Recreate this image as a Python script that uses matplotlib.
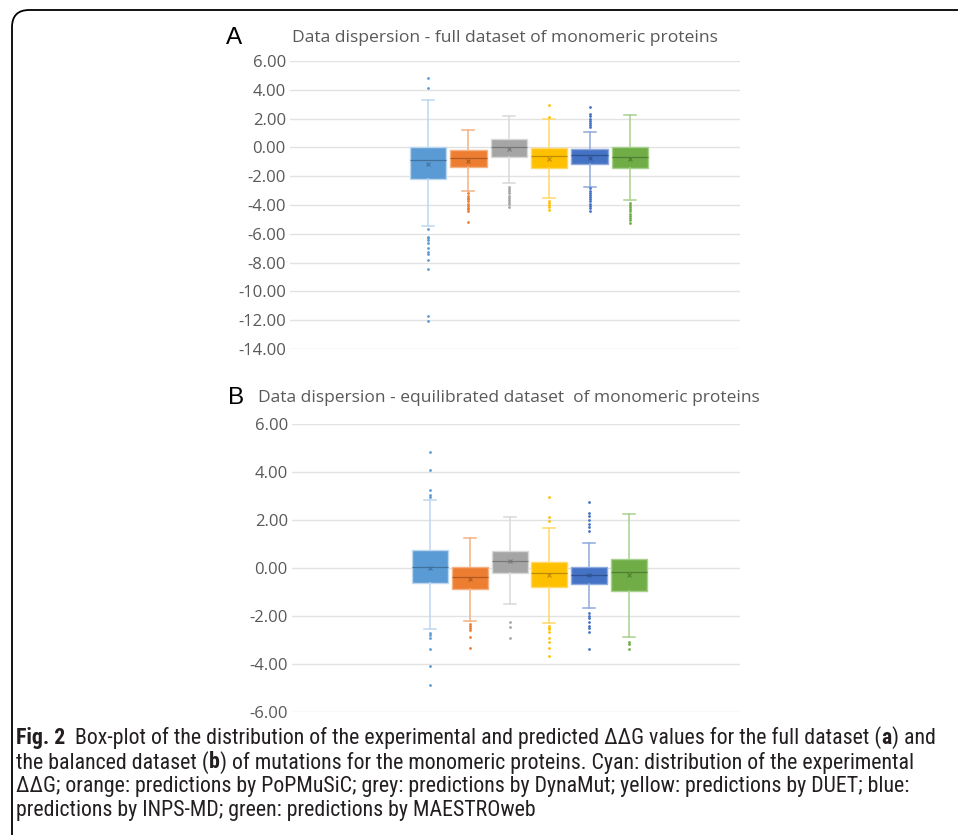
import matplotlib
matplotlib.use("Agg")
import matplotlib.pyplot as plt
from matplotlib import font_manager as fm
from matplotlib.patches import FancyBboxPatch
from matplotlib.ticker import FixedLocator, FuncFormatter

# ---------------- data ----------------
series_names = ["Experimental", "PoPMuSiC", "DynaMut", "DUET", "INPS-MD", "MAESTROweb"]
box_colors = ["#5B9BD5", "#ED7D31", "#A5A5A5", "#FFC000", "#4472C4", "#70AD47"]
dark_colors = ["#41719C", "#AE5A21", "#787878", "#BC8C00", "#2F528F", "#507E32"]
light_colors = ["#BDD7EE", "#F4B183", "#D9D9D9", "#FFD966", "#8FAADC", "#A9D18E"]

# Panel A: full dataset
a_q1 = [-2.19, -1.36, -0.67, -1.45, -1.18, -1.45]
a_med = [-0.88, -0.76, 0.00, -0.62, -0.53, -0.67]
a_q3 = [0.00, -0.20, 0.60, -0.07, -0.13, 0.05]
a_mean = [-1.13, -0.92, -0.13, -0.83, -0.71, -0.83]
a_whislo = [-5.46, -3.05, -2.49, -3.54, -2.73, -3.65]
a_whishi = [3.29, 1.23, 2.18, 1.97, 1.05, 2.25]
a_fliers = [
    [4.84, 4.10, -5.69, -6.20, -6.30, -6.43, -6.62, -7.00, -7.26, -7.40, -7.82, -8.42, -11.71, -12.03],
    [-3.20, -3.35, -3.50, -3.60, -3.75, -3.90, -4.05, -4.20, -4.30, -4.45, -5.20],
    [-2.75, -2.90, -3.05, -3.20, -3.35, -3.50, -3.65, -3.80, -3.95, -4.16],
    [2.97, 2.13, -3.70, -3.85, -4.00, -4.15, -4.35],
    [2.78, 2.30, 2.15, 2.00, 1.85, 1.70, 1.55, 1.44,
     -2.85, -3.00, -3.15, -3.30, -3.45, -3.60, -3.75, -3.90, -4.05, -4.20, -4.40],
    [-3.85, -4.00, -4.15, -4.30, -4.45, -4.60, -4.75, -4.90, -5.05, -5.27],
]

# Panel B: equilibrated (balanced) dataset
b_q1 = [-0.64, -0.88, -0.22, -0.78, -0.68, -0.94]
b_med = [0.05, -0.39, 0.28, -0.22, -0.29, -0.18]
b_q3 = [0.75, 0.05, 0.72, 0.24, 0.05, 0.36]
b_mean = [0.00, -0.47, 0.28, -0.29, -0.29, -0.29]
b_whislo = [-2.56, -2.22, -1.50, -2.31, -1.68, -2.86]
b_whishi = [2.83, 1.25, 2.11, 1.67, 1.05, 2.26]
b_fliers = [
    [4.85, 4.08, 3.25, 3.04, 2.95, -2.72, -2.80, -2.93, -3.38, -4.07, -4.89],
    [-2.33, -2.42, -2.50, -2.60, -2.88, -3.35],
    [-2.24, -2.44, -2.92],
    [2.96, 2.11, 1.96, -2.40, -2.48, -2.56, -2.65, -2.93, -3.07, -3.35, -3.65],
    [2.76, 2.30, 2.15, 2.00, 1.85, 1.70, 1.55,
     -1.86, -1.98, -2.10, -2.25, -2.40, -2.52, -2.65, -3.38],
    [-3.10, -3.18, -3.39],
]

a_ticks = [6, 4, 2, 0, -2, -4, -6, -8, -10, -12, -14]
b_ticks = [6, 4, 2, 0, -2, -4, -6]

title_a = "Data dispersion - full dataset of monomeric proteins"
title_b = "Data dispersion - equilibrated dataset  of monomeric proteins"

# caption: each line is a list of (text, bold, gap_before_in_spaces)
caption_lines = [
    [("Fig. 2", True, 0), ("Box-plot of the distribution of the experimental and predicted ΔΔG values for the full dataset (", False, 2),
     ("a", True, 0), (") and", False, 0)],
    [("the balanced dataset (", False, 0), ("b", True, 0),
     (") of mutations for the monomeric proteins. Cyan: distribution of the experimental", False, 0)],
    [("ΔΔG; orange: predictions by PoPMuSiC; grey: predictions by DynaMut; yellow: predictions by DUET; blue:", False, 0)],
    [("predictions by INPS-MD; green: predictions by MAESTROweb", False, 0)],
]

# ---------------- fonts ----------------
plt.rcParams["axes.unicode_minus"] = False
chart_font = ["Open Sans", "DejaVu Sans"]


def pick_caption_font():
    prefs = ["Liberation Sans Narrow", "Roboto Condensed", "Open Sans Condensed",
             "Noto Sans Condensed", "DejaVu Sans Condensed"]
    names = {f.name for f in fm.fontManager.ttflist}
    for p in prefs:
        if p in names:
            return [p, "DejaVu Sans"], "normal"
    for f in fm.fontManager.ttflist:
        if f.name == "DejaVu Sans" and "condensed" in str(f.stretch):
            return ["DejaVu Sans"], "condensed"
    return ["Liberation Sans", "DejaVu Sans"], "normal"


cap_family, cap_stretch = pick_caption_font()

W, H = 958, 835
fig = plt.figure(figsize=(W / 100, H / 100), dpi=100)


def px_axes(left, top, right, bottom):
    return fig.add_axes([left / W, 1 - bottom / H, (right - left) / W, (bottom - top) / H])


def draw_panel(ax, q1, med, q3, mean, wlo, whi, fliers, ticks, xlim):
    stats = []
    for i in range(len(series_names)):
        stats.append(dict(label=series_names[i], q1=q1[i], med=med[i], q3=q3[i],
                          mean=mean[i], whislo=wlo[i], whishi=whi[i], fliers=fliers[i]))
    positions = list(range(1, len(stats) + 1))
    for i, st in enumerate(stats):
        ax.bxp([st], positions=[positions[i]], widths=0.9, capwidths=0.3,
               showmeans=True, patch_artist=True, manage_ticks=False,
               boxprops=dict(facecolor=box_colors[i], edgecolor=light_colors[i], linewidth=1.0),
               medianprops=dict(color=dark_colors[i], linewidth=0.9),
               whiskerprops=dict(color=light_colors[i], linewidth=1.1),
               capprops=dict(color=light_colors[i], linewidth=1.1),
               meanprops=dict(marker="x", markeredgecolor=dark_colors[i], markersize=3.5,
                              markeredgewidth=0.8),
               flierprops=dict(marker="o", markerfacecolor=box_colors[i],
                               markeredgecolor="none", markersize=2.0, linestyle="none"))
    ax.set_xlim(*xlim)
    ax.set_ylim(min(ticks), max(ticks))
    ax.yaxis.set_major_locator(FixedLocator(ticks))
    ax.yaxis.set_major_formatter(FuncFormatter(lambda v, p: f"{v:.2f}"))
    ax.set_xticks([])
    ax.grid(axis="y", color="#E2E2E2", linewidth=1.0)
    ax.set_axisbelow(True)
    for s in ax.spines.values():
        s.set_visible(False)
    ax.tick_params(axis="y", length=0, pad=3, labelsize=12, labelcolor="#595959")
    for lab in ax.get_yticklabels():
        lab.set_family(chart_font)


ax_a = px_axes(290, 61, 740, 349)
draw_panel(ax_a, a_q1, a_med, a_q3, a_mean, a_whislo, a_whishi, a_fliers, a_ticks,
           (1 - 138 / 40.4, 1 + 312 / 40.4))
ax_b = px_axes(292, 424, 740, 712)
draw_panel(ax_b, b_q1, b_med, b_q3, b_mean, b_whislo, b_whishi, b_fliers, b_ticks,
           (1 - 138 / 39.8, 1 + 310 / 39.8))

# panel letters and titles
fig.text(234 / W, 1 - 38 / H, "A", fontsize=17.5, family=["Liberation Sans", "DejaVu Sans"],
         color="black", ha="center", va="center")
fig.text(292 / W, 1 - 38 / H, title_a, fontsize=12.6, family=chart_font, color="#595959",
         ha="left", va="center")
fig.text(236 / W, 1 - 398 / H, "B", fontsize=17.5, family=["Liberation Sans", "DejaVu Sans"],
         color="black", ha="center", va="center")
fig.text(258 / W, 1 - 398 / H, title_b, fontsize=12.5, family=chart_font, color="#595959",
         ha="left", va="center")

# caption (laid out segment by segment, then scaled to the reference line width)
renderer = fig.canvas.get_renderer()
cap_texts = []
CAP_X = 16.0
CAP_W = 926.0


def layout_caption(size):
    for t in cap_texts:
        t.remove()
    cap_texts.clear()
    probe1 = fig.text(0, 0, "a a", fontsize=size, family=cap_family, stretch=cap_stretch)
    probe2 = fig.text(0, 0, "aa", fontsize=size, family=cap_family, stretch=cap_stretch)
    space = probe1.get_window_extent(renderer).width - probe2.get_window_extent(renderer).width
    probe1.remove()
    probe2.remove()
    widths = []
    for k, line in enumerate(caption_lines):
        x = CAP_X
        y = 1 - (738 + 24.3 * k) / H
        for seg, bold, gap in line:
            x += gap * space
            t = fig.text(x / W, y, seg, fontsize=size, family=cap_family, stretch=cap_stretch,
                         weight="bold" if bold else "normal", color="#231F20",
                         ha="left", va="center")
            cap_texts.append(t)
            x = t.get_window_extent(renderer).x1
        widths.append(x - CAP_X)
    return widths


size = 12.5
w = layout_caption(size)
size = size * CAP_W / w[0]
layout_caption(size)

# frame (rounded top-left corner, extends beyond the figure)
frame = FancyBboxPatch((12 / W, -0.1), 1.2, (1 - 10 / H) + 0.1,
                       boxstyle="round,pad=0,rounding_size=0.018",
                       transform=fig.transFigure, facecolor="none", edgecolor="black",
                       linewidth=1.3, mutation_aspect=W / H)
fig.patches.append(frame)

fig.savefig("out.png", dpi=100)
